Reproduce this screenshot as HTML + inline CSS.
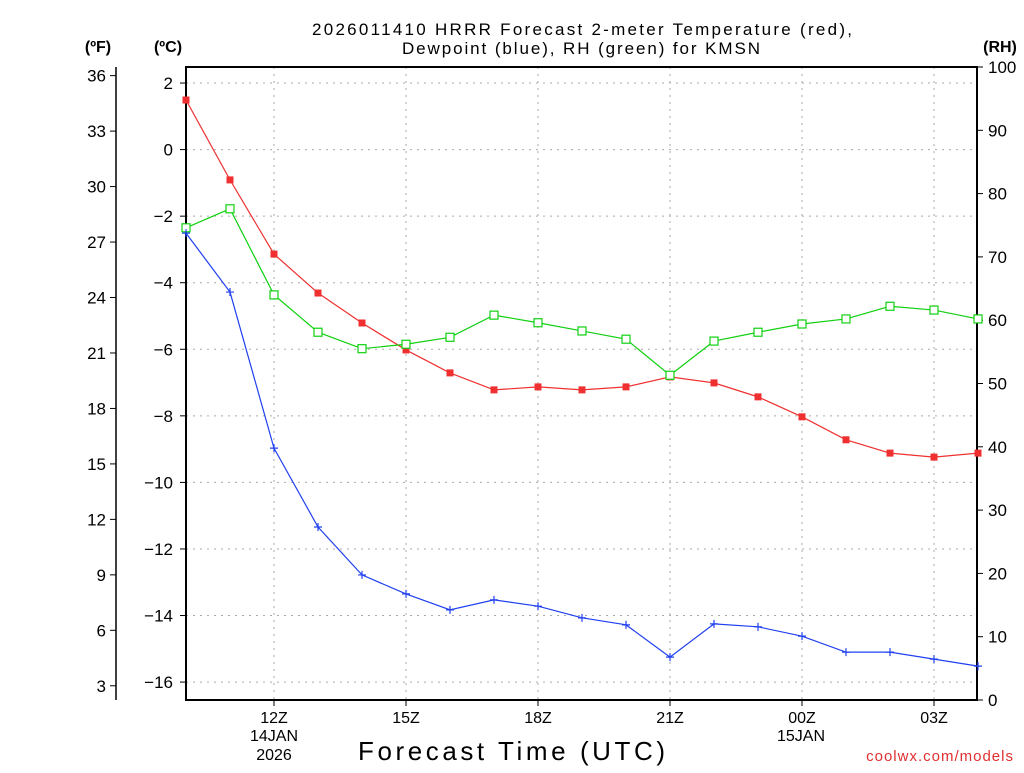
<!DOCTYPE html>
<html><head><meta charset="utf-8"><style>
body{margin:0;background:#fff;width:1024px;height:768px;overflow:hidden}
svg text{font-family:"Liberation Sans",sans-serif}
</style></head><body>
<svg id="chart" width="1024" height="768" xmlns="http://www.w3.org/2000/svg">
<g id="grid"></g><g id="axes"></g><g id="series"></g>
<text x="312" y="35" font-size="17" textLength="540" lengthAdjust="spacing">2026011410 HRRR Forecast 2-meter Temperature (red),</text>
<text x="402" y="54" font-size="17" textLength="358" lengthAdjust="spacing">Dewpoint (blue), RH (green) for KMSN</text>
<text x="98" y="52" text-anchor="middle" font-size="16" font-weight="bold">(ºF)</text>
<text x="168" y="52" text-anchor="middle" font-size="16" font-weight="bold">(ºC)</text>
<text x="1000" y="52" text-anchor="middle" font-size="16" font-weight="bold">(RH)</text>
<text x="358" y="760" font-size="26" textLength="307" lengthAdjust="spacing">Forecast Time (UTC)</text>
<text x="1014" y="761" text-anchor="end" font-size="15" fill="#e03030" letter-spacing="1">coolwx.com/models</text>
</svg>
<script>
const hours=[10,11,12,13,14,15,16,17,18,19,20,21,22,23,24,25,26,27,28];
const tempC=[1.49,-0.91,-3.14,-4.31,-5.21,-6.02,-6.71,-7.22,-7.13,-7.22,-7.13,-6.83,-7.01,-7.43,-8.03,-8.72,-9.12,-9.24,-9.12];
const dewC=[-2.51,-4.28,-8.97,-11.34,-12.78,-13.35,-13.83,-13.53,-13.72,-14.07,-14.28,-15.25,-14.25,-14.34,-14.62,-15.1,-15.1,-15.31,-15.52];
const rh=[74.6,77.6,64.0,58.1,55.5,56.2,57.3,60.8,59.6,58.3,57.0,51.3,56.7,58.1,59.4,60.2,62.2,61.6,60.2];
const cTicks=[2,0,-2,-4,-6,-8,-10,-12,-14,-16];
const fTicks=[36,33,30,27,24,21,18,15,12,9,6,3];
const rhTicks=[0,10,20,30,40,50,60,70,80,90,100];
const xTicks=[12,15,18,21,24,27];
const xLabels=["12Z","15Z","18Z","21Z","00Z","03Z"];
const L=186,R=977,T=67,B=700;
const x=h=>L+(h-10)*44;
const yC=c=>149.6-c*33.28;
const yF=f=>yC((f-32)/1.8);
const yR=r=>B-r*(B-T)/100;
const NS="http://www.w3.org/2000/svg";
function mk(p,tag,at,txt){const e=document.createElementNS(NS,tag);for(const k in at)e.setAttribute(k,at[k]);if(txt!=null)e.textContent=txt;p.appendChild(e);return e;}
const grid=document.getElementById('grid'),axes=document.getElementById('axes'),ser=document.getElementById('series');
cTicks.forEach(c=>{const y=yC(c);
 let g=mk(grid,'line',{x1:L,x2:R,y1:y,y2:y,stroke:'#aaa','stroke-dasharray':'2,5'});
 
 
 mk(axes,'line',{x1:180,x2:L,y1:y,y2:y,stroke:'#000'});
 let t=mk(axes,'text',{x:173,y:y+6,'text-anchor':'end','font-size':17},c<0?'\u2212'+(-c):String(c));
 
 
});
xTicks.forEach((h,i)=>{const xx=x(h);
 let g=mk(grid,'line',{x1:xx,x2:xx,y1:T,y2:B,stroke:'#aaa','stroke-dasharray':'2,5'});
 
 
 mk(axes,'line',{x1:xx,x2:xx,y1:B,y2:B+6,stroke:'#000'});
 let t=mk(axes,'text',{x:xx,y:723,'text-anchor':'middle','font-size':16},xLabels[i]);
 
 
});
[[274,741,"14JAN"],[274,760,"2026"],[801,741,"15JAN"]].forEach(d=>{let t=mk(axes,'text',{x:d[0],y:d[1],'text-anchor':'middle','font-size':16},d[2]);
 
 });
mk(axes,'line',{x1:116,x2:116,y1:67,y2:700,stroke:'#000','stroke-width':1.5});
fTicks.forEach(f=>{const y=yF(f);
 mk(axes,'line',{x1:110,x2:116,y1:y,y2:y,stroke:'#000'});
 let t=mk(axes,'text',{x:106,y:y+6,'text-anchor':'end','font-size':17},String(f));
 
 
});
rhTicks.forEach(r=>{const y=yR(r);
 mk(axes,'line',{x1:R,x2:R+6,y1:y,y2:y,stroke:'#000'});
 let t=mk(axes,'text',{x:988,y:y+6,'font-size':17},String(r));
 
 
});
let fr=mk(axes,'rect',{x:L,y:T,width:R-L,height:B-T,fill:'none',stroke:'#000','stroke-width':2});


function line(vals,fy,col,name){
 let l=mk(ser,'polyline',{points:vals.map((v,i)=>x(hours[i])+','+fy(v)).join(' '),fill:'none',stroke:col,'stroke-width':1.2});
 
 
}
line(tempC,yC,'#f03030','temperature');
line(dewC,yC,'#2040f0','dewpoint');
line(rh,yR,'#10d010','rh');
tempC.forEach((v,i)=>{let m=mk(ser,'rect',{x:x(hours[i])-3.5,y:yC(v)-3.5,width:7,height:7,fill:'#f03030'});
 
 });
rh.forEach((v,i)=>{let m=mk(ser,'rect',{x:x(hours[i])-4,y:yR(v)-4,width:8,height:8,fill:'#fff',stroke:'#10d010','stroke-width':1.2});
 
 });
dewC.forEach((v,i)=>{const xx=x(hours[i]),y=yC(v);
 let m=mk(ser,'path',{d:`M${xx-4},${y}H${xx+4}M${xx},${y-4}V${y+4}`,stroke:'#2040f0','stroke-width':1.2});
 
 });
</script>
</body></html>
